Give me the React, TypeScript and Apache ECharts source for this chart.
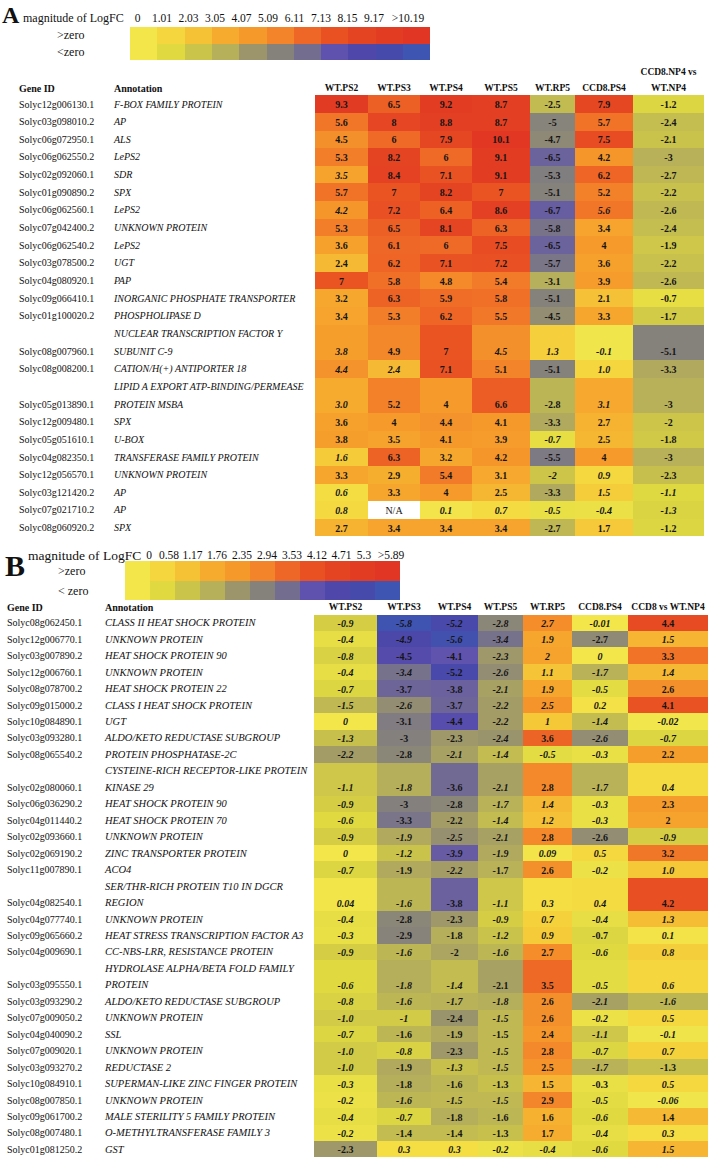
import React, { useEffect, useRef } from "react";
import * as echarts from "echarts";

// ---------------- DATA ----------------
const columnsA = ["WT.PS2", "WT.PS3", "WT.PS4", "WT.PS5", "WT.RP5", "CCD8.PS4", "CCD8.NP4 vs\nWT.NP4"];
const columnsB = ["WT.PS2", "WT.PS3", "WT.PS4", "WT.PS5", "WT.RP5", "CCD8.PS4", "CCD8 vs WT.NP4"];

const legendTicksA = ["0", "1.01", "2.03", "3.05", "4.07", "5.09", "6.11", "7.13", "8.15", "9.17", ">10.19"];
const legendTicksB = ["0", "0.58", "1.17", "1.76", "2.35", "2.94", "3.53", "4.12", "4.71", "5.3", ">5.89"];
const legendMaxA = 10.19;
const legendMaxB = 5.89;

const posColors = ["#f2e64b", "#f5d63e", "#f5c236", "#f6aa2e", "#f5992b", "#f3842a", "#ee6726", "#e95123", "#e54423", "#e23c23", "#e13623"];
const negColors = ["#f2e64b", "#e0da40", "#cbc44a", "#b7b05a", "#9c956c", "#85827c", "#736d90", "#5f52ae", "#4f47aa", "#464aaa", "#3e55b2"];

const geneIdsA = [
  "Solyc12g006130.1", "Solyc03g098010.2", "Solyc06g072950.1", "Solyc06g062550.2", "Solyc02g092060.1",
  "Solyc01g090890.2", "Solyc06g062560.1", "Solyc07g042400.2", "Solyc06g062540.2", "Solyc03g078500.2",
  "Solyc04g080920.1", "Solyc09g066410.1", "Solyc01g100020.2", "Solyc08g007960.1", "Solyc08g008200.1",
  "Solyc05g013890.1", "Solyc12g009480.1", "Solyc05g051610.1", "Solyc04g082350.1", "Solyc12g056570.1",
  "Solyc03g121420.2", "Solyc07g021710.2", "Solyc08g060920.2",
];
const annotationsA = [
  "F-BOX FAMILY PROTEIN", "AP", "ALS", "LePS2", "SDR", "SPX", "LePS2", "UNKNOWN PROTEIN", "LePS2", "UGT", "PAP",
  "INORGANIC PHOSPHATE TRANSPORTER", "PHOSPHOLIPASE D", "NUCLEAR TRANSCRIPTION FACTOR Y\nSUBUNIT C-9",
  "CATION/H(+) ANTIPORTER 18", "LIPID A EXPORT ATP-BINDING/PERMEASE\nPROTEIN MSBA", "SPX", "U-BOX",
  "TRANSFERASE FAMILY PROTEIN", "UNKNOWN PROTEIN", "AP", "AP", "SPX",
];
const valuesA = [
  ["9.3", "6.5", "9.2", "8.7", "-2.5", "7.9", "-1.2"],
  ["5.6", "8", "8.8", "8.7", "-5", "5.7", "-2.4"],
  ["4.5", "6", "7.9", "10.1", "-4.7", "7.5", "-2.1"],
  ["5.3", "8.2", "6", "9.1", "-6.5", "4.2", "-3"],
  ["3.5", "8.4", "7.1", "9.1", "-5.3", "6.2", "-2.7"],
  ["5.7", "7", "8.2", "7", "-5.1", "5.2", "-2.2"],
  ["4.2", "7.2", "6.4", "8.6", "-6.7", "5.6", "-2.6"],
  ["5.3", "6.5", "8.1", "6.3", "-5.8", "3.4", "-2.4"],
  ["3.6", "6.1", "6", "7.5", "-6.5", "4", "-1.9"],
  ["2.4", "6.2", "7.1", "7.2", "-5.7", "3.6", "-2.2"],
  ["7", "5.8", "4.8", "5.4", "-3.1", "3.9", "-2.6"],
  ["3.2", "6.3", "5.9", "5.8", "-5.1", "2.1", "-0.7"],
  ["3.4", "5.3", "6.2", "5.5", "-4.5", "3.3", "-1.7"],
  ["3.8", "4.9", "7", "4.5", "1.3", "-0.1", "-5.1"],
  ["4.4", "2.4", "7.1", "5.1", "-5.1", "1.0", "-3.3"],
  ["3.0", "5.2", "4", "6.6", "-2.8", "3.1", "-3"],
  ["3.6", "4", "4.4", "4.1", "-3.3", "2.7", "-2"],
  ["3.8", "3.5", "4.1", "3.9", "-0.7", "2.5", "-1.8"],
  ["1.6", "6.3", "3.2", "4.2", "-5.5", "4", "-3"],
  ["3.3", "2.9", "5.4", "3.1", "-2", "0.9", "-2.3"],
  ["0.6", "3.3", "4", "2.5", "-3.3", "1.5", "-1.1"],
  ["0.8", "N/A", "0.1", "0.7", "-0.5", "-0.4", "-1.3"],
  ["2.7", "3.4", "3.4", "3.4", "-2.7", "1.7", "-1.2"],
];
// 1 = value printed in italics in the source table
const italicA = [
  "0000000", "0000000", "0000000", "0000000", "1000000", "0000000", "1000010", "0000000", "0000000", "0000000",
  "0000000", "0000000", "0000000", "1001110", "1100010", "1000010", "0000000", "0000100", "1000000", "0000110",
  "1000011", "1011111", "0000000",
];

const geneIdsB = [
  "Solyc08g062450.1", "Solyc12g006770.1", "Solyc03g007890.2", "Solyc12g006760.1", "Solyc08g078700.2",
  "Solyc09g015000.2", "Solyc10g084890.1", "Solyc03g093280.1", "Solyc08g065540.2", "Solyc02g080060.1",
  "Solyc06g036290.2", "Solyc04g011440.2", "Solyc02g093660.1", "Solyc02g069190.2", "Solyc11g007890.1",
  "Solyc04g082540.1", "Solyc04g077740.1", "Solyc09g065660.2", "Solyc04g009690.1", "Solyc03g095550.1",
  "Solyc03g093290.2", "Solyc07g009050.2", "Solyc04g040090.2", "Solyc07g009020.1", "Solyc03g093270.2",
  "Solyc10g084910.1", "Solyc08g007850.1", "Solyc09g061700.2", "Solyc08g007480.1", "Solyc01g081250.2",
];
const annotationsB = [
  "CLASS II HEAT SHOCK PROTEIN", "UNKNOWN PROTEIN", "HEAT SHOCK PROTEIN 90", "UNKNOWN PROTEIN",
  "HEAT SHOCK PROTEIN 22", "CLASS I HEAT SHOCK PROTEIN", "UGT", "ALDO/KETO REDUCTASE SUBGROUP",
  "PROTEIN PHOSPHATASE-2C", "CYSTEINE-RICH RECEPTOR-LIKE PROTEIN\nKINASE 29", "HEAT SHOCK PROTEIN 90",
  "HEAT SHOCK PROTEIN 70", "UNKNOWN PROTEIN", "ZINC TRANSPORTER PROTEIN", "ACO4",
  "SER/THR-RICH PROTEIN T10 IN DGCR\nREGION", "UNKNOWN PROTEIN", "HEAT STRESS TRANSCRIPTION FACTOR A3",
  "CC-NBS-LRR, RESISTANCE PROTEIN", "HYDROLASE ALPHA/BETA FOLD FAMILY\nPROTEIN", "ALDO/KETO REDUCTASE SUBGROUP",
  "UNKNOWN PROTEIN", "SSL", "UNKNOWN PROTEIN", "REDUCTASE 2", "SUPERMAN-LIKE ZINC FINGER PROTEIN",
  "UNKNOWN PROTEIN", "MALE STERILITY 5 FAMILY PROTEIN", "O-METHYLTRANSFERASE FAMILY 3", "GST",
];
const valuesB = [
  ["-0.9", "-5.8", "-5.2", "-2.8", "2.7", "-0.01", "4.4"],
  ["-0.4", "-4.9", "-5.6", "-3.4", "1.9", "-2.7", "1.5"],
  ["-0.8", "-4.5", "-4.1", "-2.3", "2", "0", "3.3"],
  ["-0.4", "-3.4", "-5.2", "-2.6", "1.1", "-1.7", "1.4"],
  ["-0.7", "-3.7", "-3.8", "-2.1", "1.9", "-0.5", "2.6"],
  ["-1.5", "-2.6", "-3.7", "-2.2", "2.5", "0.2", "4.1"],
  ["0", "-3.1", "-4.4", "-2.2", "1", "-1.4", "-0.02"],
  ["-1.3", "-3", "-2.3", "-2.4", "3.6", "-2.6", "-0.7"],
  ["-2.2", "-2.8", "-2.1", "-1.4", "-0.5", "-0.3", "2.2"],
  ["-1.1", "-1.8", "-3.6", "-2.1", "2.8", "-1.7", "0.4"],
  ["-0.9", "-3", "-2.8", "-1.7", "1.4", "-0.3", "2.3"],
  ["-0.6", "-3.3", "-2.2", "-1.4", "1.2", "-0.3", "2"],
  ["-0.9", "-1.9", "-2.5", "-2.1", "2.8", "-2.6", "-0.9"],
  ["0", "-1.2", "-3.9", "-1.9", "0.09", "0.5", "3.2"],
  ["-0.7", "-1.9", "-2.2", "-1.7", "2.6", "-0.2", "1.0"],
  ["0.04", "-1.6", "-3.8", "-1.1", "0.3", "0.4", "4.2"],
  ["-0.4", "-2.8", "-2.3", "-0.9", "0.7", "-0.4", "1.3"],
  ["-0.3", "-2.9", "-1.8", "-1.2", "0.9", "-0.7", "0.1"],
  ["-0.9", "-1.6", "-2", "-1.6", "2.7", "-0.6", "0.8"],
  ["-0.6", "-1.8", "-1.4", "-2.1", "3.5", "-0.5", "0.6"],
  ["-0.8", "-1.6", "-1.7", "-1.8", "2.6", "-2.1", "-1.6"],
  ["-1.0", "-1", "-2.4", "-1.5", "2.6", "-0.2", "0.5"],
  ["-0.7", "-1.6", "-1.9", "-1.5", "2.4", "-1.1", "-0.1"],
  ["-1.0", "-0.8", "-2.3", "-1.5", "2.8", "-0.7", "0.7"],
  ["-1.0", "-1.9", "-1.3", "-1.5", "2.5", "-1.7", "-1.3"],
  ["-0.3", "-1.8", "-1.6", "-1.3", "1.5", "-0.3", "0.5"],
  ["-0.2", "-1.6", "-1.5", "-1.5", "2.9", "-0.5", "-0.06"],
  ["-0.4", "-0.7", "-1.8", "-1.6", "1.6", "-0.6", "1.4"],
  ["-0.2", "-1.4", "-1.4", "-1.3", "1.7", "-0.4", "0.3"],
  ["-2.3", "0.3", "0.3", "-0.2", "-0.4", "-0.6", "1.5"],
];
const italicB = [
  "1111110", "1111101", "1001110", "1101111", "1001110", "1101110", "1001111", "1001011", "1011110", "1101011",
  "1001110", "1001110", "1111001", "1111110", "1010011", "1101110", "1001111", "1001101", "1101011", "1110011",
  "1111011", "1101011", "1000011", "1101011", "1011010", "1000001", "1111011", "1100010", "1000011", "0111111",
];

// ---------------- LAYOUT ----------------
const FONT = '"Liberation Serif", "Times New Roman", Times, serif';
const W = 712;
const H = 1157;

const layoutA = {
  edges: [315, 368, 420, 472, 530, 575, 633, 704],
  top: 95.2,
  unitH: 17.65,
  geneX: 19,
  geneSize: 10,
  annoX: 114,
  annoSize: 10,
  headerY: 88,
  headerLineH: 16.5,
  legendX: 130,
  legendBoxW: 27.3,
  legendTop: 27,
  legendRowH: 16.5,
  tickY: 18,
  tickSize: 11.5,
  tickCenters: [137.5, 162, 188.5, 215, 241.5, 268, 294.5, 321, 347.5, 374, 408],
  letter: "A",
  letterX: 2,
  letterY: 15,
  letterSize: 24,
  titleX: 23,
  titleY: 18,
  titleSize: 12,
  signX: 57,
  signLabels: [">zero", "<zero"],
};
const layoutB = {
  edges: [314, 377, 431, 478, 523, 572, 628, 708],
  top: 614.5,
  unitH: 16.46,
  geneX: 7,
  geneSize: 10,
  annoX: 105,
  annoSize: 10.5,
  headerY: 607,
  headerLineH: 16.5,
  legendX: 125,
  legendBoxW: 25,
  legendTop: 561,
  legendRowH: 19.7,
  tickY: 555,
  tickSize: 11.5,
  tickCenters: [149, 169, 192.5, 217, 242, 267, 292, 317, 341.5, 364, 391],
  letter: "B",
  letterX: 5,
  letterY: 565,
  letterSize: 30,
  titleX: 28,
  titleY: 555,
  titleSize: 13.5,
  signX: 58,
  signLabels: [">zero", "< zero"],
};

type Cell = { col: number; unit: number; span: number; text: string; value: number; italic: boolean; na: boolean };

function buildTable(geneIds: string[], annotations: string[], values: string[][], italics: string[]) {
  const geneUnits: string[] = [];
  const annoUnits: string[] = [];
  const cells: Cell[] = [];
  geneIds.forEach((g, r) => {
    const lines = annotations[r].split("\n");
    const start = geneUnits.length;
    lines.forEach((ln, i) => {
      annoUnits.push(ln);
      geneUnits.push(i === lines.length - 1 ? g : "");
    });
    values[r].forEach((v, c) => {
      const na = v === "N/A";
      cells.push({
        col: c,
        unit: start,
        span: lines.length,
        text: v,
        value: na ? 999 : parseFloat(v),
        italic: italics[r][c] === "1",
        na,
      });
    });
  });
  return { geneUnits, annoUnits, cells };
}

function makeRender(cells: Cell[], edges: number[]) {
  return (params: any, api: any) => {
    const cell = cells[params.dataIndex];
    const h = api.size([0, 1])[1];
    const top0 = api.coord([0, 0])[1] - h / 2;
    const edgeY = (k: number) => Math.round(+(top0 + k * h).toFixed(3));
    const edgeX = (c: number) => Math.round(+api.coord([edges[c] - edges[0], 0])[0].toFixed(3));
    const x0 = edgeX(cell.col);
    const x1 = edgeX(cell.col + 1);
    const y0 = edgeY(cell.unit);
    const y1 = edgeY(cell.unit + cell.span);
    const labelY = api.coord([0, cell.unit + cell.span - 1])[1] + 0.5;
    const fill = cell.na ? "#ffffff" : api.visual("color");
    return {
      type: "group",
      children: [
        { type: "rect", shape: { x: x0, y: y0, width: x1 - x0, height: y1 - y0 }, style: { fill } },
        {
          type: "text",
          style: {
            text: cell.text,
            x: (x0 + x1) / 2,
            y: labelY,
            align: "center",
            verticalAlign: "middle",
            textAlign: "center",
            textVerticalAlign: "middle",
            fontFamily: FONT,
            fontSize: 10,
            fontWeight: cell.na ? "normal" : "bold",
            fontStyle: cell.italic ? "italic" : "normal",
            fill: "#151515",
          },
        },
      ],
    };
  };
}

function txt(text: string, x: number, y: number, size: number, opts: any = {}) {
  return {
    type: "text",
    x,
    y,
    silent: true,
    style: {
      text,
      fontFamily: FONT,
      fontSize: size,
      fontWeight: opts.bold ? "bold" : "normal",
      fontStyle: opts.italic ? "italic" : "normal",
      fill: "#111",
      textAlign: opts.align || "left",
      align: opts.align || "left",
      textVerticalAlign: "middle",
      verticalAlign: "middle",
    },
  };
}

function panelGraphics(L: any, ticks: string[], columns: string[]) {
  const els: any[] = [];
  els.push(txt(L.letter, L.letterX, L.letterY, L.letterSize, { bold: true }));
  els.push(txt("magnitude of LogFC", L.titleX, L.titleY, L.titleSize));
  ticks.forEach((t, i) => {
    els.push(txt(t, L.tickCenters[i], L.tickY, L.tickSize, { align: "center" }));
  });
  [posColors, negColors].forEach((pal, r) => {
    pal.forEach((c, i) => {
      const xa = Math.round(L.legendX + i * L.legendBoxW);
      const xb = Math.round(L.legendX + (i + 1) * L.legendBoxW);
      const ya = Math.round(L.legendTop + r * L.legendRowH);
      const yb = Math.round(L.legendTop + (r + 1) * L.legendRowH);
      els.push({
        type: "rect",
        silent: true,
        shape: { x: xa, y: ya, width: xb - xa, height: yb - ya },
        style: { fill: c },
      });
    });
    els.push(txt(L.signLabels[r], L.signX, L.legendTop + (r + 0.5) * L.legendRowH, 12));
  });
  els.push(txt("Gene ID", L.geneX, L.headerY, 10, { bold: true }));
  els.push(txt("Annotation", L.annoX, L.headerY, 10, { bold: true }));
  columns.forEach((c, i) => {
    const cx = (L.edges[i] + L.edges[i + 1]) / 2;
    const lines = c.split("\n");
    lines.forEach((ln, k) => {
      const y = L.headerY - (lines.length - 1 - k) * L.headerLineH;
      els.push(txt(ln, cx, y, 9.5, { bold: true, align: "center" }));
    });
  });
  return els;
}

function fullPalette() {
  return [...negColors].reverse().concat(posColors.slice(1));
}

export default function App() {
  const ref = useRef<HTMLDivElement>(null);
  useEffect(() => {
    if (!ref.current) return;
    const chart = echarts.init(ref.current, null, { renderer: "svg" });
    const tA = buildTable(geneIdsA, annotationsA, valuesA, italicA);
    const tB = buildTable(geneIdsB, annotationsB, valuesB, italicB);
    const panels = [
      { L: layoutA, t: tA },
      { L: layoutB, t: tB },
    ];
    const grids = panels.map(({ L, t }) => ({
      left: L.edges[0],
      top: L.top,
      width: L.edges[L.edges.length - 1] - L.edges[0],
      height: t.geneUnits.length * L.unitH,
      containLabel: false,
      outerBoundsMode: "none",
    }));
    const xAxes = panels.map(({ L }, gi) => ({
      gridIndex: gi,
      type: "value",
      min: 0,
      max: L.edges[L.edges.length - 1] - L.edges[0],
      show: false,
    }));
    const yAxes: any[] = [];
    panels.forEach(({ L, t }, gi) => {
      const base = {
        gridIndex: gi,
        type: "category",
        inverse: true,
        position: "left",
        axisLine: { show: false },
        axisTick: { show: false },
        splitLine: { show: false },
      };
      yAxes.push({
        ...base,
        data: t.geneUnits,
        axisLabel: {
          interval: 0,
          align: "left",
          margin: L.edges[0] - L.geneX,
          fontFamily: FONT,
          fontSize: L.geneSize,
          color: "#111",
        },
      });
      yAxes.push({
        ...base,
        data: t.annoUnits,
        axisLabel: {
          interval: 0,
          align: "left",
          margin: L.edges[0] - L.annoX,
          fontFamily: FONT,
          fontSize: L.annoSize,
          fontStyle: "italic",
          color: "#111",
        },
      });
    });
    const series = panels.map(({ L, t }, gi) => ({
      type: "custom",
      xAxisIndex: gi,
      yAxisIndex: gi * 2,
      clip: false,
      data: t.cells.map((c) => [c.col, c.unit, c.value]),
      renderItem: makeRender(t.cells, L.edges),
    }));
    chart.setOption({
      animation: false,
      backgroundColor: "#ffffff",
      grid: grids,
      xAxis: xAxes,
      yAxis: yAxes,
      visualMap: [
        {
          type: "continuous",
          show: false,
          seriesIndex: 0,
          dimension: 2,
          min: -legendMaxA,
          max: legendMaxA,
          inRange: { color: fullPalette() },
          outOfRange: { color: "#ffffff" },
        },
        {
          type: "continuous",
          show: false,
          seriesIndex: 1,
          dimension: 2,
          min: -legendMaxB,
          max: legendMaxB,
          inRange: { color: fullPalette() },
          outOfRange: { color: "#ffffff" },
        },
      ],
      graphic: [
        ...panelGraphics(layoutA, legendTicksA, columnsA),
        ...panelGraphics(layoutB, legendTicksB, columnsB),
      ],
      series,
    });
    return () => chart.dispose();
  }, []);
  return (
    <div
      ref={ref}
      style={{ position: "absolute", left: 0, top: 0, width: W, height: H, background: "#fff" }}
    />
  );
}
